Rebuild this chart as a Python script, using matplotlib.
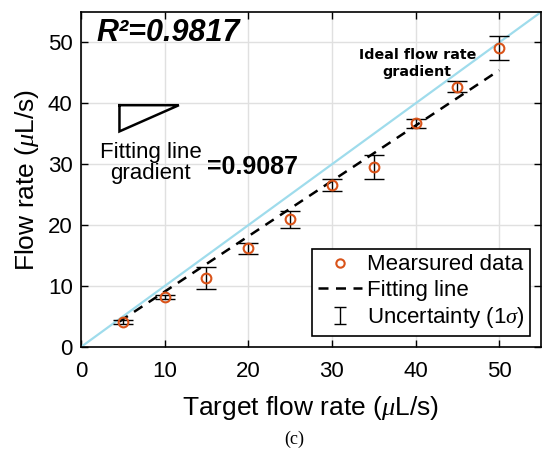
import matplotlib
matplotlib.use("Agg")
import matplotlib.pyplot as plt
from matplotlib.lines import Line2D
from matplotlib.legend_handler import HandlerErrorbar
import numpy as np

plt.rcParams['font.family'] = ['Liberation Sans', 'DejaVu Sans']
plt.rcParams['mathtext.fontset'] = 'custom'
plt.rcParams['mathtext.rm'] = 'Liberation Sans'
plt.rcParams['mathtext.it'] = 'Liberation Serif:italic'

target = [5, 10, 15, 20, 25, 30, 35, 40, 45, 50]
measured = [4.1, 8.2, 11.4, 16.2, 21.0, 26.6, 29.6, 36.7, 42.7, 49.1]
sigma = [0.3, 0.3, 1.8, 0.9, 1.4, 1.0, 2.0, 0.7, 0.9, 1.9]
fit_slope = 0.9087
fit_range = [4.6, 50]
ideal_range = [0, 55]
xticks = [0, 10, 20, 30, 40, 50]
yticks = [0, 10, 20, 30, 40, 50]

fig = plt.figure(figsize=(5.45, 4.5), dpi=100)
ax = fig.add_axes([0.1486, 0.2289, 0.8441, 0.7444])

ax.plot(ideal_range, ideal_range, color='#9fdcec', lw=1.6, zorder=2)
fx = np.array(fit_range)
ax.plot(fx, fit_slope * fx, '--', color='black', lw=1.8, dashes=(4, 3), zorder=3)
eb = ax.errorbar(target, measured, yerr=sigma, fmt='none', ecolor='black',
                 elinewidth=1.0, capsize=7, capthick=1.0, zorder=4)
ax.plot(target, measured, 'o', mfc='none', mec='#D95319', mew=1.5, ms=7, zorder=5)

ax.set_xlim(0, 55)
ax.set_ylim(0, 55)
ax.set_xticks(xticks)
ax.set_yticks(yticks)
ax.grid(True, color='#e0e0e0', lw=1.0)
ax.set_axisbelow(True)
ax.tick_params(direction='in', length=5, width=1, labelsize=16, top=True, right=True,
               colors='black')
ax.tick_params(axis='x', pad=10)
ax.tick_params(axis='y', pad=6)
for s in ax.spines.values():
    s.set_linewidth(1.2)

ax.set_xlabel('Target flow rate ($\\mu$L/s)', fontsize=19, labelpad=9)
ax.set_ylabel('Flow rate ($\\mu$L/s)', fontsize=19, labelpad=5)

ax.text(1.9, 51.6, 'R\u00b2=0.9817', fontsize=22, fontweight='bold',
        fontstyle='italic', va='center', ha='left')
ax.text(40.2, 46.6, 'Ideal flow rate\ngradient', fontsize=10.3, fontweight='bold',
        ha='center', va='center', linespacing=1.3, family='DejaVu Sans')
ax.text(8.3, 30.2, 'Fitting line\ngradient', fontsize=16, ha='center', va='center',
        linespacing=0.95)
ax.text(15.1, 29.5, '=0.9087', fontsize=18, fontweight='bold', ha='left', va='center')

tri_x = [4.6, 11.7, 4.6, 4.6]
tri_y = [39.7, 39.7, 35.4, 39.7]
ax.plot(tri_x, tri_y, color='black', lw=1.8, solid_joinstyle='miter', zorder=3)

h_meas = Line2D([], [], marker='o', ls='none', mfc='none', mec='#D95319', mew=1.5, ms=6)
h_fit = Line2D([], [], ls='--', color='black', lw=1.8, dashes=(4, 3))
h_err = ax.errorbar([np.nan], [np.nan], yerr=[1.0], fmt='none', ecolor='black',
                    elinewidth=1.0, capsize=4, capthick=1.0)
leg = ax.legend([h_meas, h_fit, h_err], ['Mearsured data', 'Fitting line',
                 'Uncertainty (1$\\sigma$)'], loc='lower right', fontsize=16,
                frameon=True, fancybox=False, edgecolor='black', framealpha=1,
                borderpad=0.25, handlelength=2.0, handletextpad=0.2, labelspacing=0.2,
                borderaxespad=0.5,
                handler_map={type(h_err): HandlerErrorbar(xerr_size=0.3, yerr_size=0.4)})
leg.get_frame().set_linewidth(1.2)

fig.text(0.54, 0.005, '(c)', fontsize=13, family='Liberation Serif', ha='center',
         va='bottom')

fig.savefig('out.png', dpi=100)
